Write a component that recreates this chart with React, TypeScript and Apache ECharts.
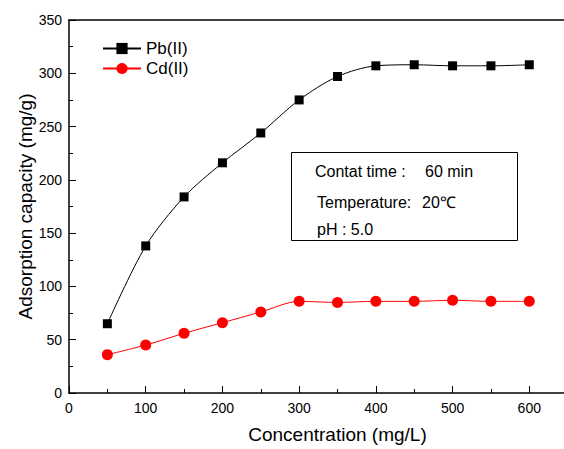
import React, { useEffect, useRef } from "react";
import * as echarts from "echarts";

const concentrations = [50, 100, 150, 200, 250, 300, 350, 400, 450, 500, 550, 600];
const pbValues = [65, 138, 184, 216, 244, 275, 297, 307, 308, 307, 307, 308];
const cdValues = [36, 45, 56, 66, 76, 86, 85, 86, 86, 87, 86, 86];
const seriesNames = ["Pb(II)", "Cd(II)"];
const xTitle = "Concentration (mg/L)";
const yTitle = "Adsorption capacity (mg/g)";
const noteLines = [
  ["Contat time :", "60 min"],
  ["Temperature:", "20℃"],
  ["pH : 5.0", ""],
];

const FONT = "Liberation Sans, Arial, sans-serif";

export default function App() {
  const ref = useRef<HTMLDivElement>(null);
  useEffect(() => {
    document.body.style.margin = "0";
    const chart = echarts.init(ref.current!, null, { renderer: "svg" });
    const pb = concentrations.map((x, i) => [x, pbValues[i]]);
    const cd = concentrations.map((x, i) => [x, cdValues[i]]);
    const noteY = [171, 202, 229];
    const noteX = [[315, 425], [317, 422], [317, 0]];
    const graphics: any[] = [
      {
        type: "rect",
        shape: { x: 291.5, y: 152.5, width: 226, height: 88 },
        style: { fill: "none", stroke: "#000", lineWidth: 1 },
        z: 100,
      },
    ];
    noteLines.forEach((ln, i) => {
      graphics.push({
        type: "text",
        x: noteX[i][0],
        y: noteY[i],
        style: { text: ln[0], font: `16px ${FONT}`, fill: "#000", textVerticalAlign: "middle" },
        z: 100,
      });
      if (ln[1]) {
        graphics.push({
          type: "text",
          x: noteX[i][1],
          y: noteY[i],
          style: { text: ln[1], font: `16px ${FONT}`, fill: "#000", textVerticalAlign: "middle" },
          z: 100,
        });
      }
    });
    chart.setOption({
      animation: false,
      backgroundColor: "#fff",
      textStyle: { fontFamily: FONT },
      grid: { left: 69, top: 20, width: 537, height: 373, outerBoundsMode: "none", containLabel: false },
      legend: {
        left: 97,
        top: 35,
        orient: "vertical",
        itemWidth: 38,
        itemHeight: 14,
        itemGap: 3,
        textStyle: { fontSize: 17, lineHeight: 17, color: "#000", fontFamily: FONT },
        data: seriesNames,
      },
      xAxis: [
        {
          type: "value",
          min: 0,
          max: 700,
          interval: 100,
          position: "bottom",
          name: xTitle,
          nameLocation: "middle",
          nameGap: 32,
          nameMoveOverlap: false,
          nameTextStyle: { fontSize: 19, color: "#000", fontFamily: FONT },
          axisLine: { show: true, lineStyle: { color: "#000", width: 1.5 } },
          axisTick: { show: true, inside: true, length: 7, lineStyle: { color: "#000" } },
          minorTick: { show: true, splitNumber: 2, length: 4, lineStyle: { color: "#000" } },
          axisLabel: {
            fontSize: 14,
            color: "#000",
            margin: 8,
            showMaxLabel: false,
          },
          splitLine: { show: false },
        },
        {
          type: "value",
          min: 0,
          max: 700,
          position: "top",
          axisLine: { show: true, lineStyle: { color: "#000", width: 1.5 } },
          axisTick: { show: false },
          axisLabel: { show: false },
          splitLine: { show: false },
        },
      ],
      yAxis: {
        type: "value",
        min: 0,
        max: 350,
        interval: 50,
        name: yTitle,
        nameLocation: "middle",
        nameGap: 34,
        nameMoveOverlap: false,
        nameTextStyle: { fontSize: 19, color: "#000", fontFamily: FONT },
        axisLine: { show: true, lineStyle: { color: "#000", width: 1.5 } },
        axisTick: { show: true, inside: true, length: 7, lineStyle: { color: "#000" } },
        minorTick: { show: true, splitNumber: 2, length: 4, lineStyle: { color: "#000" } },
        axisLabel: { fontSize: 14, color: "#000", margin: 7 },
        splitLine: { show: false },
      },
      series: [
        {
          name: seriesNames[0],
          type: "line",
          data: pb,
          smooth: 0.3,
          symbol: "rect",
          symbolSize: 9,
          lineStyle: { color: "#000", width: 1 },
          itemStyle: { color: "#000" },
          z: 3,
        },
        {
          name: seriesNames[1],
          type: "line",
          data: cd,
          smooth: 0.3,
          symbol: "circle",
          symbolSize: 11,
          lineStyle: { color: "#ff0000", width: 1 },
          itemStyle: { color: "#ff0000" },
          z: 3,
        },
      ],
      graphic: graphics,
    });
    return () => chart.dispose();
  }, []);
  return (
    <div
      ref={ref}
      style={{ position: "fixed", left: 0, top: 0, width: 564, height: 449 }}
    />
  );
}
